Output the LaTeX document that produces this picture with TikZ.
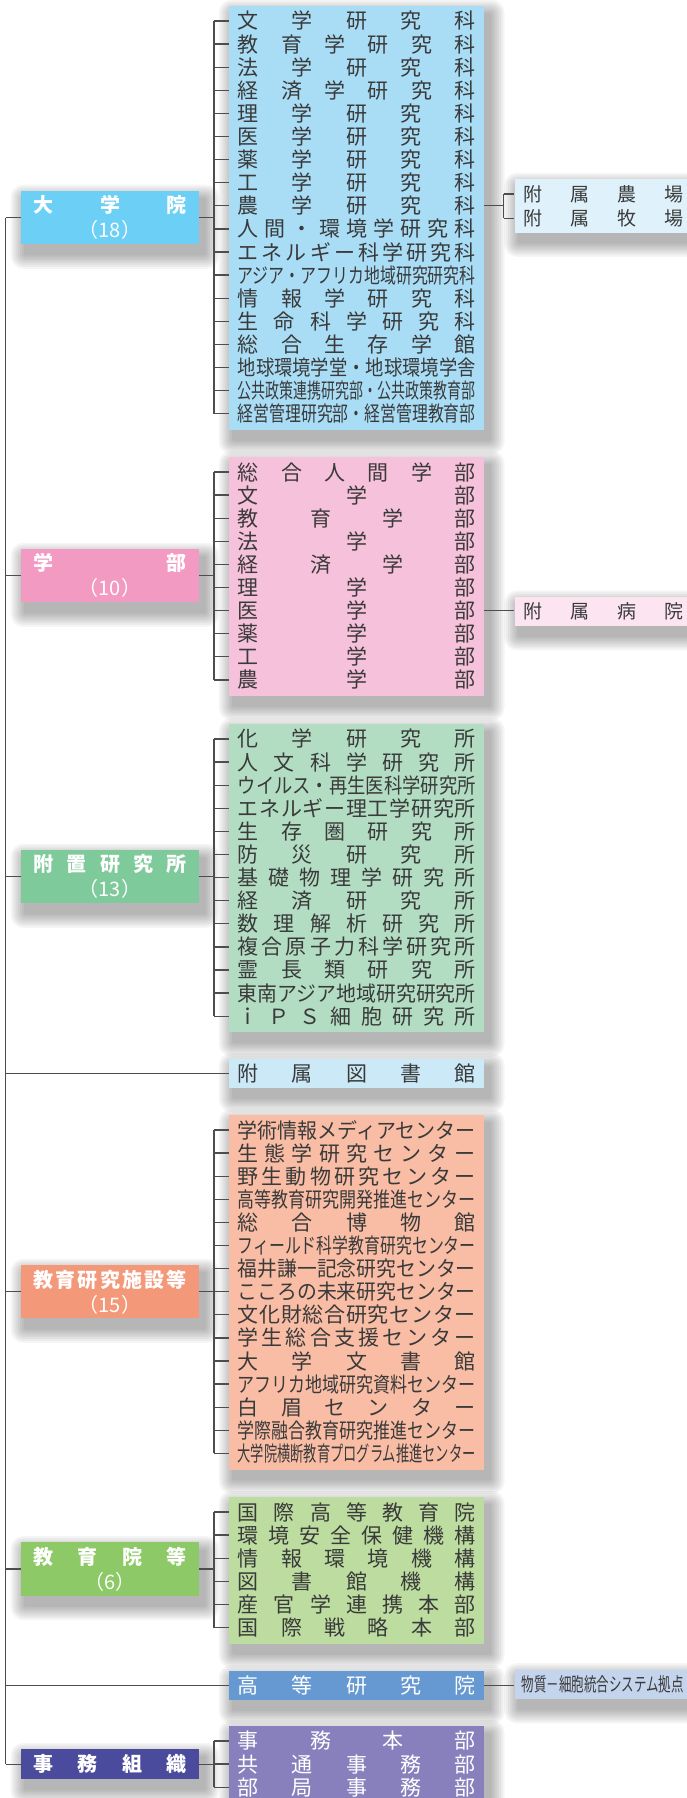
\documentclass[tikz,border=0pt]{standalone}
\usepackage{fontspec}
\setmainfont{Noto Sans CJK JP}
\usepackage{graphicx}
\usetikzlibrary{positioning,calc}

\definecolor{linegray}{HTML}{4D4D4D}
\definecolor{rowgray}{HTML}{3A3A3A}
\definecolor{gshead}{HTML}{6BCFF6}
\definecolor{gslist}{HTML}{A9DDF6}
\definecolor{farmbg}{HTML}{DFF2FB}
\definecolor{bkhead}{HTML}{F29AC2}
\definecolor{bklist}{HTML}{F6C1DA}
\definecolor{hospbg}{HTML}{FCE5F0}
\definecolor{kenhead}{HTML}{7FCA9A}
\definecolor{kenlist}{HTML}{B3DDC3}
\definecolor{libbg}{HTML}{CCE9F8}
\definecolor{shhead}{HTML}{F4987A}
\definecolor{shlist}{HTML}{F9BDA5}
\definecolor{kyhead}{HTML}{8DC966}
\definecolor{kylist}{HTML}{BCDCA0}
\definecolor{kotobg}{HTML}{6699D1}
\definecolor{wpibg}{HTML}{C4D4EC}
\definecolor{jmhead}{HTML}{4B4B9E}
\definecolor{jmlist}{HTML}{8880BD}

\pgfdeclarelayer{paper}
\pgfdeclarelayer{shade}
\pgfsetlayers{paper,shade,main}

\newlength\fitw
\newsavebox\fitbox
% spread a row over the width, squeeze it when it is too long
\newcommand\fitrow[2]{%
  \setlength\fitw{#1}%
  \sbox\fitbox{\spaceskip=0pt plus 1fill\relax\ignorespaces#2\unskip}%
  \ifdim\wd\fitbox>\fitw
    \resizebox{\fitw}{\height}{\usebox\fitbox}%
  \else
    \makebox[\fitw][s]{\spaceskip=0pt plus 1fill\relax\ignorespaces#2\unskip}%
  \fi}

\begin{document}
\begin{tikzpicture}[x=1pt, y=-1pt,
    every node/.style={inner sep=0pt},
    link/.style={draw=linegray, line width=1.3pt},
    headbox/.style={minimum width=178pt, minimum height=53.3pt, align=center, text=white, font=\fontsize{20}{25}\selectfont\bfseries},
    listbox/.style={anchor=north west, minimum width=255pt},
    sidebox/.style={anchor=north west, minimum width=190pt},
    rowtext/.style={anchor=west, text=rowgray, font=\fontsize{21}{23}\selectfont},
    sidetext/.style={anchor=west, text=rowgray, font=\fontsize{19}{23}\selectfont}
  ]
  \useasboundingbox (0,0) rectangle (687,1798);
  \begin{pgfonlayer}{paper}
    \fill[white] (0,0) rectangle (687,1798);
  \end{pgfonlayer}

  \coordinate (trunk) at (5.7,0);
  \coordinate (bar) at (214,0);
  \coordinate (sidebar) at (503.5,0);

  % 大学院
  \node[headbox, fill=gshead] (gs) at (110,217.7) {\fitrow{153pt}{大 学 院}\\{\mdseries （18）}};
  \node[listbox, fill=gslist, minimum height=423.7pt] (gslist) at (229,6) {};
  \foreach \lbl [count=\i] in {文 学 研 究 科,教 育 学 研 究 科,法 学 研 究 科,経 済 学 研 究 科,
      理 学 研 究 科,医 学 研 究 科,薬 学 研 究 科,工 学 研 究 科,農 学 研 究 科,
      人 間 ・ 環 境 学 研 究 科,エ ネ ル ギ ー 科 学 研 究 科,アジア・アフリカ地域研究研究科,
      情 報 学 研 究 科,生 命 科 学 研 究 科,総 合 生 存 学 館,地球環境学堂・地球環境学舎,
      公共政策連携研究部・公共政策教育部,経営管理研究部・経営管理教育部}
    \node[rowtext] (gs-\i) at (237.5,{21+(\i-1)*23.1}) {\fitrow{238pt}{\lbl}};
  \node[sidebox, fill=farmbg, minimum height=53.3pt] (farm) at (514.3,179) {};
  \node[sidetext] (farm-1) at (523.3,194) {\fitrow{160pt}{附 属 農 場}};
  \node[sidetext] (farm-2) at (523.3,218.3) {\fitrow{160pt}{附 属 牧 場}};

  % 学部
  \node[headbox, fill=bkhead] (bk) at (110,575.8) {\fitrow{153pt}{学 部}\\{\mdseries （10）}};
  \node[listbox, fill=bklist, minimum height=238.9pt] (bklist) at (229,457) {};
  \foreach \lbl [count=\i] in {総 合 人 間 学 部,文 学 部,教 育 学 部,法 学 部,経 済 学 部,
      理 学 部,医 学 部,薬 学 部,工 学 部,農 学 部}
    \node[rowtext] (bk-\i) at (237.5,{472+(\i-1)*23.1}) {\fitrow{238pt}{\lbl}};
  \node[sidebox, fill=hospbg, minimum height=29pt] (hosp) at (514.3,596.7) {};
  \node[sidetext] (hosp-1) at (523.3,611.2) {\fitrow{160pt}{附 属 病 院}};

  % 附置研究所
  \node[headbox, fill=kenhead] (ken) at (110,876.8) {\fitrow{153pt}{附 置 研 究 所}\\{\mdseries （13）}};
  \node[listbox, fill=kenlist, minimum height=308.2pt] (kenlist) at (229,724) {};
  \foreach \lbl [count=\i] in {化 学 研 究 所,人 文 科 学 研 究 所,ウイルス・再生医科学研究所,
      エ ネ ル ギ ー 理 工 学 研 究 所,生 存 圏 研 究 所,防 災 研 究 所,基 礎 物 理 学 研 究 所,
      経 済 研 究 所,数 理 解 析 研 究 所,複 合 原 子 力 科 学 研 究 所,霊 長 類 研 究 所,
      東南アジア地域研究研究所,ｉ Ｐ Ｓ 細 胞 研 究 所}
    \node[rowtext] (ken-\i) at (237.5,{739+(\i-1)*23.1}) {\fitrow{238pt}{\lbl}};

  % 附属図書館
  \node[listbox, fill=libbg, minimum height=28.7pt] (liblist) at (229,1059) {};
  \node[rowtext] (lib-1) at (237.5,1073.4) {\fitrow{238pt}{附 属 図 書 館}};

  % 教育研究施設等
  \node[headbox, fill=shhead] (sh) at (110,1291.8) {\fitrow{153pt}{教 育 研 究 施 設 等}\\{\mdseries （15）}};
  \node[listbox, fill=shlist, minimum height=354.4pt] (shlist) at (229,1115) {};
  \foreach \lbl [count=\i] in {学術情報メディアセンター,生 態 学 研 究 セ ン タ ー,
      野 生 動 物 研 究 セ ン タ ー,高等教育研究開発推進センター,総 合 博 物 館,
      フィールド科学教育研究センター,福井謙一記念研究センター,こころの未来研究センター,
      文 化 財 総 合 研 究 セ ン タ ー,学 生 総 合 支 援 セ ン タ ー,大 学 文 書 館,
      アフリカ地域研究資料センター,白 眉 セ ン タ ー,学際融合教育研究推進センター,
      大学院横断教育プログラム推進センター}
    \node[rowtext] (sh-\i) at (237.5,{1130+(\i-1)*23.1}) {\fitrow{238pt}{\lbl}};

  % 教育院等
  \node[headbox, fill=kyhead] (ky) at (110,1569) {\fitrow{153pt}{教 育 院 等}\\{\mdseries （6）}};
  \node[listbox, fill=kylist, minimum height=146.5pt] (kylist) at (229,1497) {};
  \foreach \lbl [count=\i] in {国 際 高 等 教 育 院,環 境 安 全 保 健 機 構,情 報 環 境 機 構,
      図 書 館 機 構,産 官 学 連 携 本 部,国 際 戦 略 本 部}
    \node[rowtext] (ky-\i) at (237.5,{1512+(\i-1)*23.1}) {\fitrow{238pt}{\lbl}};

  % 高等研究院
  \node[listbox, fill=kotobg, minimum height=28.7pt] (kotolist) at (229,1671) {};
  \node[rowtext, text=white] (koto-1) at (237.5,1685.3) {\fitrow{238pt}{高 等 研 究 院}};
  \node[sidebox, fill=wpibg, minimum height=29.4pt] (wpi) at (514.3,1669.3) {};
  \node[sidetext] (wpi-1) at (521.7,1684) {\fitrow{162pt}{物質－細胞統合システム拠点}};

  % 事務組織
  \node[headbox, fill=jmhead, minimum height=30pt] (jm) at (110,1764.2) {\fitrow{153pt}{事 務 組 織}};
  \node[listbox, fill=jmlist, minimum height=77.2pt] (jmlist) at (229,1726) {};
  \foreach \lbl [count=\i] in {事 務 本 部,共 通 事 務 部,部 局 事 務 部}
    \node[rowtext, text=white] (jm-\i) at (237.5,{1741+(\i-1)*23.1}) {\fitrow{238pt}{\lbl}};

  % soft shadows
  \begin{pgfonlayer}{shade}
    \foreach \b in {gs,gslist,farm,bk,bklist,hosp,ken,kenlist,liblist,sh,shlist,ky,kylist,kotolist,wpi,jm,jmlist}
      \foreach \k in {1,...,8}
        \fill[black, opacity=0.04, rounded corners=1.6*\k pt]
          ($(\b.north west)+({5-1.9*\k},{9-1.9*\k})$) rectangle ($(\b.south east)+({5+1.9*\k},{9+1.9*\k})$);
  \end{pgfonlayer}

  % trunk
  \draw[link] (trunk |- gs) -- (trunk |- jm);
  \foreach \h in {gs,bk,ken,sh,ky,jm}
    \draw[link] (trunk |- \h) -- (\h.west);
  \draw[link] (trunk |- lib-1) -- (liblist.west |- lib-1);
  \draw[link] (trunk |- koto-1) -- (kotolist.west |- koto-1);

  % brackets
  \foreach \h/\n in {gs/18,bk/10,ken/13,sh/15,ky/6,jm/3} {
    \draw[link] (\h.east) -- (bar |- \h);
    \draw[link] (bar |- \h-1) -- (bar |- \h-\n);
    \foreach \i in {1,...,\n}
      \draw[link] (bar |- \h-\i) -- (\h list.west |- \h-\i);
  }

  % side boxes
  \draw[link] (gslist.east |- gs-9) -- (sidebar |- gs-9);
  \draw[link] (sidebar |- farm-1) -- (sidebar |- farm-2);
  \draw[link] (sidebar |- farm-1) -- (farm.west |- farm-1);
  \draw[link] (sidebar |- farm-2) -- (farm.west |- farm-2);
  \draw[link] (bklist.east |- bk-7) -- (hosp.west |- bk-7);
  \draw[link] (kotolist.east |- koto-1) -- (wpi.west |- koto-1);
\end{tikzpicture}
\end{document}
